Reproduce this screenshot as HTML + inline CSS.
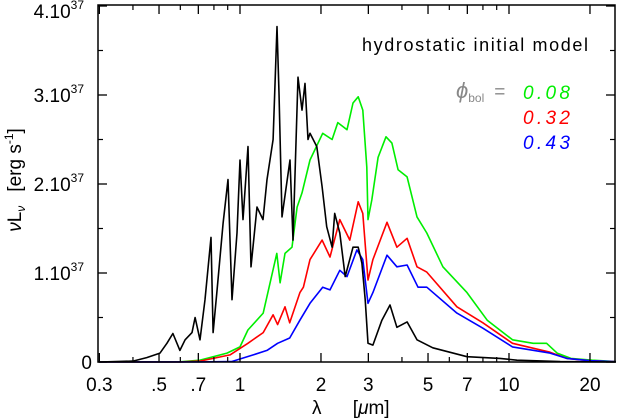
<!DOCTYPE html>
<html><head><meta charset="utf-8"><style>
body{margin:0;background:#fff;width:617px;height:420px;overflow:hidden}
svg{display:block;font-family:"Liberation Sans",sans-serif}
</style></head><body>
<svg id="chart" width="617" height="420">
<g id="marks"></g>
<g id="axes"></g>
<text x="362" y="51" font-size="18" textLength="226" lengthAdjust="spacing" fill="#000">hydrostatic initial model</text>
<text x="456" y="98" font-size="22" fill="#888" font-style="italic">ϕ<tspan font-size="12" font-style="normal" dy="4">bol</tspan><tspan font-size="19" font-style="normal" dy="-4" dx="10">=</tspan></text>
<text x="523" y="99" font-size="19" textLength="47" font-style="italic" fill="#00ee00">0.08</text>
<text x="523" y="124" font-size="19" textLength="47" font-style="italic" fill="#ff0000">0.32</text>
<text x="523" y="149" font-size="19" textLength="47" font-style="italic" fill="#0000ff">0.43</text>
<text transform="translate(21,180) rotate(-90)" text-anchor="middle" font-size="19"><tspan font-style="italic">ν</tspan>L<tspan font-size="12" font-style="italic" dy="4">ν</tspan><tspan dy="-4" dx="14">[erg s</tspan><tspan font-size="12" dy="-8">-1</tspan><tspan dy="8">]</tspan></text>
<text x="312" y="414" font-size="19">λ <tspan dx="26">[</tspan><tspan font-style="italic">μ</tspan>m]</text>
</svg>
<script>
const xTicksMajor=[0.3,0.5,0.7,1,2,3,5,7,10,20];
const xTickLabels=["0.3",".5",".7","1","2","3","5","7","10","20"];
const xTicksMinor=[0.4,0.6,0.8,0.9,4,6,8,9];
const yTicks=[0,1,2,3,4];
const yTickLabels=["0","1.10","2.10","3.10","4.10"];
const blackLam=[0.3,0.4,0.45,0.504,0.535,0.563,0.598,0.625,0.663,0.681,0.71,0.741,0.78,0.794,0.821,0.865,0.902,0.934,0.975,1.0,1.026,1.071,1.099,1.157,1.218,1.26,1.327,1.373,1.396,1.433,1.534,1.574,1.643,1.70,1.745,1.79,1.82,1.93,2.02,2.10,2.20,2.25,2.35,2.46,2.63,2.75,2.84,2.92,2.99,3.12,3.37,3.61,3.83,4.18,4.55,5.21,6.98,9.26,10.7,15.5,25];
const blackVal=[0,0.01,0.05,0.1,0.21,0.32,0.13,0.25,0.33,0.5,0.25,0.7,1.4,0.33,0.8,1.56,2.05,0.7,1.45,2.27,1.6,2.42,1.07,1.74,1.6,2.05,2.5,3.77,3.02,1.63,2.27,1.37,3.2,2.83,3.13,2.5,2.57,2.42,1.97,1.52,1.29,1.67,1.45,0.96,1.29,1.29,1.11,0.7,0.21,0.19,0.47,0.64,0.39,0.45,0.25,0.16,0.06,0.04,0.02,0.005,0];
const greenLam=[0.3,0.6,0.71,0.895,1.0,1.07,1.22,1.37,1.41,1.47,1.56,1.63,1.70,1.82,2.03,2.2,2.31,2.5,2.63,2.75,2.86,2.96,2.99,3.09,3.26,3.49,3.67,3.87,4.18,4.55,4.95,5.68,6.98,8.3,10.3,12.3,13.8,15.1,17,20.4,25];
const greenVal=[0,0.002,0.02,0.1,0.17,0.36,0.55,1.22,0.89,1.22,1.29,1.74,1.9,2.27,2.57,2.5,2.69,2.61,2.91,2.98,2.83,2.19,1.6,1.82,2.3,2.53,2.46,2.16,2.08,1.63,1.45,1.07,0.78,0.47,0.25,0.21,0.21,0.1,0.04,0.02,0.005];
const redLam=[0.3,0.6,0.71,0.918,1.07,1.22,1.327,1.38,1.47,1.53,1.67,1.72,1.82,2.02,2.16,2.35,2.56,2.75,2.86,2.99,3.12,3.52,3.83,4.18,4.55,4.95,6.4,8.0,10.3,14.2,16.4,20,25];
const redVal=[0,0.001,0.01,0.08,0.21,0.33,0.53,0.42,0.62,0.44,0.78,0.84,1.15,1.37,1.18,1.6,1.37,1.8,1.67,0.92,1.15,1.57,1.29,1.39,1.07,1.01,0.62,0.44,0.21,0.11,0.04,0.015,0.003];
const blueLam=[0.3,0.7,0.93,1.12,1.26,1.38,1.53,1.67,1.82,2.03,2.16,2.35,2.5,2.72,2.86,2.99,3.12,3.52,3.83,4.18,4.59,4.95,6.4,8.0,10.3,14.2,16.4,20,25];
const blueVal=[0,0.001,0.005,0.08,0.13,0.21,0.27,0.47,0.66,0.84,0.81,1.03,0.96,1.26,1.15,0.66,0.78,1.2,1.07,1.09,0.84,0.84,0.55,0.38,0.17,0.1,0.04,0.015,0.003];

const DEC=269,Y0=362,YU=89,L=98,R=615,T=5,B=362;
function xs(l){return 240+DEC*Math.log10(l);}
function ys(v){return Y0-YU*v;}
const NS="http://www.w3.org/2000/svg";
const marks=document.getElementById('marks'),axes=document.getElementById('axes');
function mk(tag,attrs,parent){const e=document.createElementNS(NS,tag);for(const k in attrs)e.setAttribute(k,attrs[k]);parent.appendChild(e);return e;}
function series(lam,val,color,name){
  const d=lam.map((l,i)=>(i?'L':'M')+xs(l).toFixed(1)+','+ys(val[i]).toFixed(1)).join('');
  const p=mk('path',{d:d,fill:'none',stroke:color,'stroke-width':1.6,'stroke-linejoin':'round'},marks);
  
  
}
series(greenLam,greenVal,'#00ee00','series-phi-008');
series(redLam,redVal,'#ff0000','series-phi-032');
series(blueLam,blueVal,'#0000ff','series-phi-043');
series(blackLam,blackVal,'#000','series-hydrostatic');
const frame=mk('rect',{x:L,y:T,width:R-L,height:B-T,fill:'none',stroke:'#000','stroke-width':1.5},axes);


xTicksMajor.forEach((t,i)=>{const x=xs(t);
  mk('line',{x1:x,x2:x,y1:B,y2:B-9,stroke:'#000','stroke-width':1.3},axes);
  mk('line',{x1:x,x2:x,y1:T,y2:T+9,stroke:'#000','stroke-width':1.3},axes);
  const tx=mk('text',{x:x,y:B+29,'text-anchor':'middle','font-size':19},axes);tx.textContent=xTickLabels[i];
  
  
});
xTicksMinor.forEach(t=>{const x=xs(t);
  mk('line',{x1:x,x2:x,y1:B,y2:B-5,stroke:'#000','stroke-width':1.2},axes);
  mk('line',{x1:x,x2:x,y1:T,y2:T+5,stroke:'#000','stroke-width':1.2},axes);
});
yTicks.forEach((t,i)=>{const y=ys(t);
  mk('line',{x1:L,x2:L+9,y1:y,y2:y,stroke:'#000','stroke-width':1.3},axes);
  mk('line',{x1:R,x2:R-9,y1:y,y2:y,stroke:'#000','stroke-width':1.3},axes);
  if(i<yTicks.length-1){const ym=ys(t+0.5);
    mk('line',{x1:L,x2:L+5,y1:ym,y2:ym,stroke:'#000','stroke-width':1.2},axes);
    mk('line',{x1:R,x2:R-5,y1:ym,y2:ym,stroke:'#000','stroke-width':1.2},axes);}
  const tx=mk('text',{x:i?84:92,y:y+(i==4?12:7),'text-anchor':'end','font-size':19},axes);
  
  
  tx.textContent=yTickLabels[i];
  if(i){const s=mk('tspan',{'font-size':12,dy:-9},tx);s.textContent='37';}
});
</script>
</body></html>
